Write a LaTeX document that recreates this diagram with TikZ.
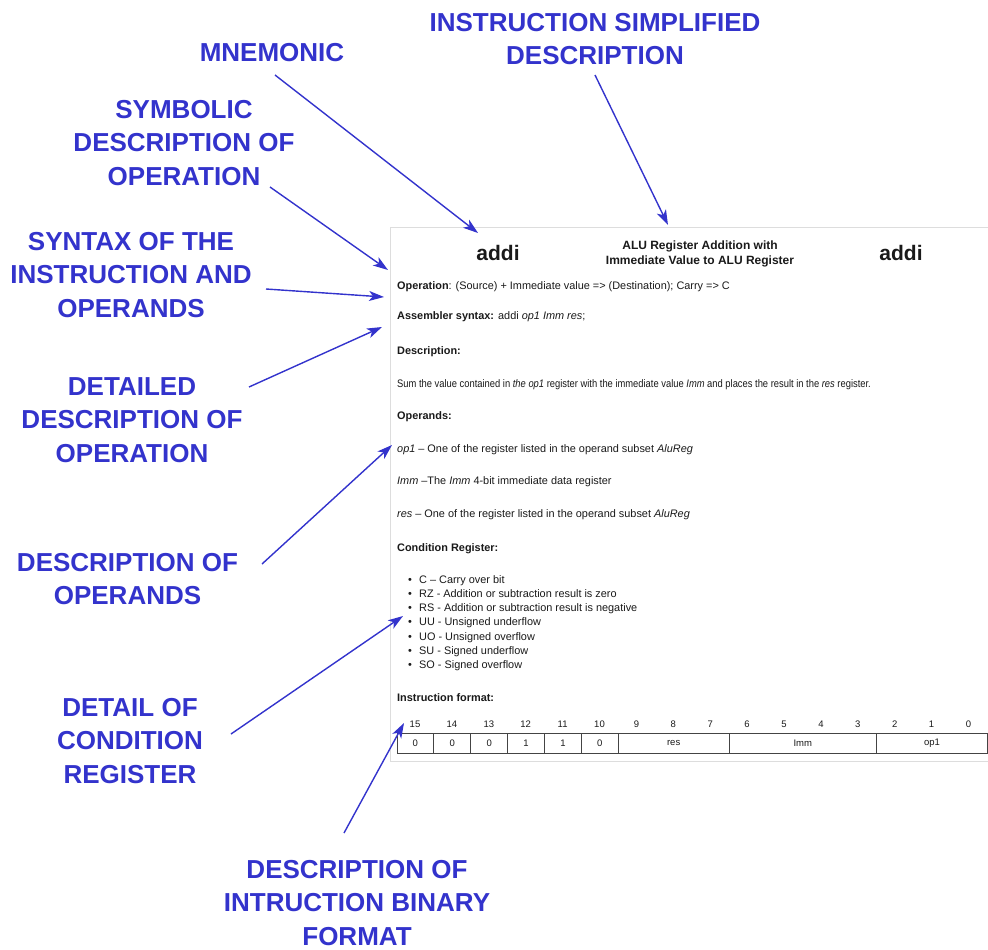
\documentclass[tikz,border=0pt]{standalone}
\usepackage{fontspec}
\setmainfont{Liberation Sans}
\newfontfamily\narrowfont[FakeStretch=0.86]{Liberation Sans}
\usetikzlibrary{arrows.meta}
\definecolor{lblue}{HTML}{3333CC}
\definecolor{doctext}{HTML}{1A1A1A}
\definecolor{frameclr}{HTML}{DDDDDD}
\definecolor{cellclr}{HTML}{444444}
\begin{document}
\begin{tikzpicture}[x=1pt,y=-1pt,
  lbl/.style={font=\fontsize{26}{33.5}\selectfont\bfseries, text=lblue, align=center, inner sep=0pt, anchor=north},
  arr/.style={draw=lblue, line width=1.4pt, -{Stealth[length=15pt,width=10pt,inset=4pt]}},
  txt/.style={font=\fontsize{10.9}{12}\selectfont, text=doctext, anchor=base west, inner sep=0pt},
  bul/.style={font=\fontsize{10.9}{12}\selectfont, text=doctext, anchor=base, inner sep=0pt},
  bitnum/.style={font=\fontsize{9.5}{11}\selectfont, text=doctext, anchor=base, inner sep=0pt},
  cell/.style={draw=cellclr, line width=0.8pt, font=\fontsize{9.5}{11}\selectfont, text=doctext, inner sep=0pt, minimum height=20pt, anchor=north west},
  bigmn/.style={font=\fontsize{21}{24}\selectfont\bfseries, text=doctext, anchor=base, inner sep=0pt},
  ttl/.style={font=\fontsize{12}{14.5}\selectfont\bfseries, text=doctext, align=center, inner sep=0pt, anchor=center}
]
\useasboundingbox (0,0) rectangle (988,950);

% document panel
\node[draw=frameclr, line width=0.8pt, fill=white, minimum width=620pt, minimum height=534pt, inner sep=0pt, anchor=north west] (panel) at (390,227) {};

% header
\node[bigmn] (mnl) at (498,260) {addi};
\node[bigmn] (mnr) at (901,260) {addi};
\node[ttl] (title) at (700,254) {ALU Register Addition with\\Immediate Value to ALU Register};

% body text
\node[txt] (t1) at (397,289) {\textbf{Operation}: (Source) + Immediate value => (Destination); Carry => C};
\node[txt] (t2) at (397,319) {\textbf{Assembler syntax:} addi \textit{op1 Imm res};};
\node[txt] (t3) at (397,354) {\textbf{Description:}};
\node[txt] (t4) at (397,387) {\narrowfont Sum the value contained in \textit{the op1} register with the immediate value \textit{Imm} and places the result in the \textit{res} register.};
\node[txt] (t5) at (397,419) {\textbf{Operands:}};
\node[txt] (t6) at (397,452) {\textit{op1} – One of the register listed in the operand subset \textit{AluReg}};
\node[txt] (t7) at (397,484) {\textit{Imm} –The \textit{Imm} 4-bit immediate data register};
\node[txt] (t8) at (397,517) {\textit{res} – One of the register listed in the operand subset \textit{AluReg}};
\node[txt] (t9) at (397,551) {\textbf{Condition Register:}};

\foreach \k/\s in {0/{C – Carry over bit},
                   1/{RZ - Addition or subtraction result is zero},
                   2/{RS - Addition or subtraction result is negative},
                   3/{UU - Unsigned underflow},
                   4/{UO - Unsigned overflow},
                   5/{SU - Signed underflow},
                   6/{SO - Signed overflow}}{
  \node[bul] (b\k) at (410,583+14.3*\k) {•};
  \node[txt] (c\k) at (419,583+14.3*\k) {\s};
}

\node[txt] (t10) at (397,701) {\textbf{Instruction format:}};

% bit numbers
\foreach \k in {0,...,15}{
  \pgfmathtruncatemacro{\bit}{15-\k}
  \node[bitnum] (n\k) at (415+36.9*\k,727) {\bit};
}

% instruction format table
\foreach \k/\v in {0/0,1/0,2/0,3/1,4/1,5/0}{
  \node[cell, minimum width=36.9pt] (f\k) at (396.5+36.9*\k,733) {\v};
}
\node[cell, minimum width=110.7pt] (fres) at (617.9,733) {res};
\node[cell, minimum width=147.6pt] (fimm) at (728.6,733) {Imm};
\node[cell, minimum width=110.7pt] (fop) at (876.2,733) {op1};

% labels
\node[lbl] (mnem) at (272,43) {MNEMONIC};
\node[lbl] (simp) at (595,13) {INSTRUCTION SIMPLIFIED\\DESCRIPTION};
\node[lbl] (symb) at (184,100) {SYMBOLIC\\DESCRIPTION OF\\OPERATION};
\node[lbl] (synt) at (131,232) {SYNTAX OF THE\\INSTRUCTION AND\\OPERANDS};
\node[lbl] (detd) at (132,377) {DETAILED\\DESCRIPTION OF\\OPERATION};
\node[lbl] (opnd) at (127.5,553) {DESCRIPTION OF\\OPERANDS};
\node[lbl] (cond) at (130,698) {DETAIL OF\\CONDITION\\REGISTER};
\node[lbl] (bin) at (357,860) {DESCRIPTION OF\\INTRUCTION BINARY\\FORMAT};

% arrow end points
\coordinate (s1) at (275,75);   \coordinate (e1) at (478,233);
\coordinate (s2) at (595,75);   \coordinate (e2) at (668,225);
\coordinate (s3) at (270,187);  \coordinate (e3) at (388,270);
\coordinate (s4) at (266,289);  \coordinate (e4) at (384,297);
\coordinate (s5) at (249,387);  \coordinate (e5) at (382,327);
\coordinate (s6) at (262,564);  \coordinate (e6) at (392,445);
\coordinate (s7) at (231,734);  \coordinate (e7) at (403,616);
\coordinate (s8) at (344,833);  \coordinate (e8) at (404,723);

\foreach \i in {1,...,8}{ \draw[arr] (s\i) -- (e\i); }
\end{tikzpicture}
\end{document}
